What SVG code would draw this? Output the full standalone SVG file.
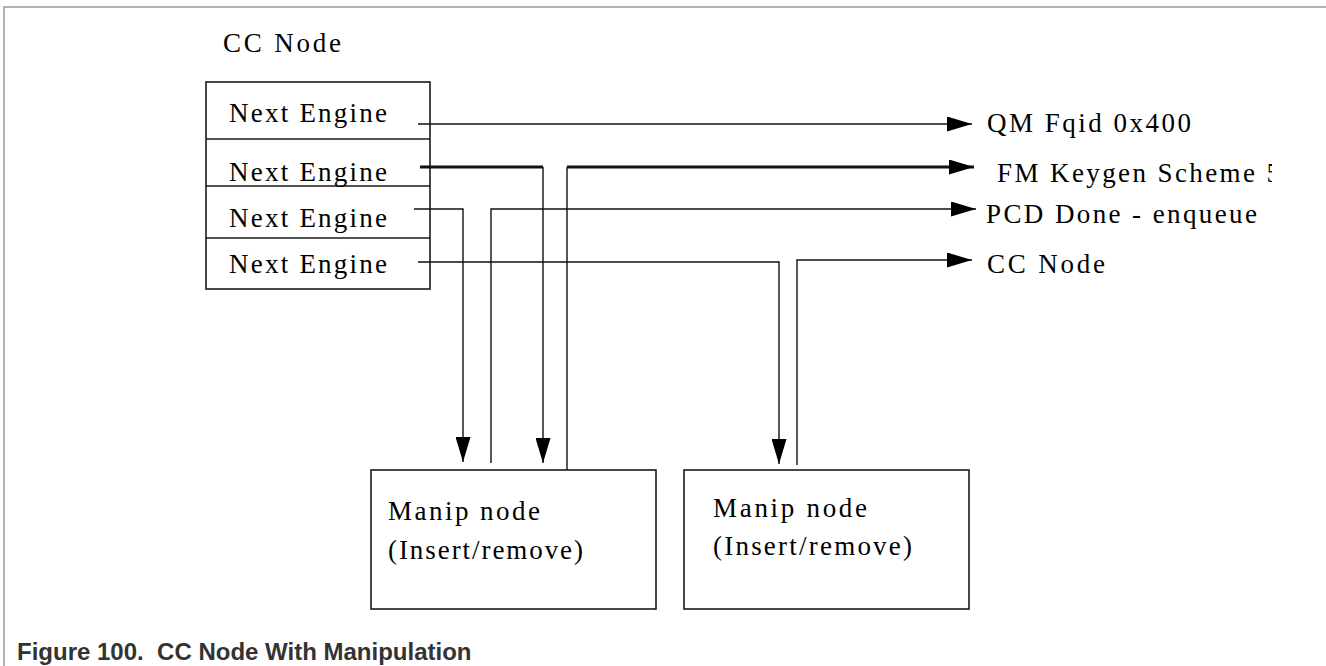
<svg xmlns="http://www.w3.org/2000/svg" width="1326" height="666" viewBox="0 0 1326 666">
  <style>
    .frame { stroke: #9a9a9a; stroke-width: 1.5; fill: none; }
    .box { fill: #ffffff; stroke: #1a1a1a; stroke-width: 1.6; }
    .div { stroke: #1a1a1a; stroke-width: 1.4; }
    .t { font-family: "Liberation Serif", "Times New Roman", serif; font-size: 27px; fill: #000; }
    .wire { fill: none; stroke: #111; stroke-width: 1.4; }
    .thick { fill: none; stroke: #111; stroke-width: 3; }
    .cap { font-family: "Liberation Sans", Arial, sans-serif; font-weight: bold; font-size: 24px; fill: #333; white-space: pre; }
  </style>
  <defs>
    <marker id="ah" viewBox="0 0 25 15" refX="25" refY="7.5" markerWidth="25" markerHeight="15" markerUnits="userSpaceOnUse" orient="auto">
      <path d="M0,0 L25,7.5 L0,15 Z" fill="#000"/>
    </marker>
    <clipPath id="clipR">
      <rect x="0" y="0" width="1272" height="666"/>
    </clipPath>
  </defs>

  <rect width="1326" height="666" fill="#ffffff"/>
  <path class="frame" d="M4,666 V7 H1326"/>

  <g id="cc-node">
    <text class="t" x="223" y="52" textLength="118" lengthAdjust="spacing">CC Node</text>
    <rect class="box" x="206" y="82" width="224" height="207"/>
    <line class="div" x1="206" y1="139" x2="430" y2="139"/>
    <line class="div" x1="206" y1="186" x2="430" y2="186"/>
    <line class="div" x1="206" y1="238" x2="430" y2="238"/>
    <text class="t" x="229" y="122" textLength="158" lengthAdjust="spacing">Next  Engine</text>
    <text class="t" x="229" y="181" textLength="158" lengthAdjust="spacing">Next  Engine</text>
    <text class="t" x="229" y="227" textLength="158" lengthAdjust="spacing">Next  Engine</text>
    <text class="t" x="229" y="273" textLength="158" lengthAdjust="spacing">Next  Engine</text>
  </g>

  <g id="manip-node-1">
    <rect class="box" x="371" y="470" width="285" height="139"/>
    <text class="t" x="388" y="520" textLength="152" lengthAdjust="spacing">Manip  node</text>
    <text class="t" x="388" y="559" textLength="195" lengthAdjust="spacing">(Insert/remove)</text>
  </g>

  <g id="manip-node-2">
    <rect class="box" x="684" y="470" width="285" height="139"/>
    <text class="t" x="713" y="517" textLength="154" lengthAdjust="spacing">Manip  node</text>
    <text class="t" x="713" y="555" textLength="199" lengthAdjust="spacing">(Insert/remove)</text>
  </g>

  <g id="target-qm">
    <text class="t" x="987" y="132" textLength="204" lengthAdjust="spacing">QM Fqid 0x400</text>
  </g>
  <g id="target-fm">
    <text class="t" x="997" y="182" textLength="283" lengthAdjust="spacing" clip-path="url(#clipR)">FM Keygen Scheme 5</text>
  </g>
  <g id="target-pcd">
    <text class="t" x="986" y="223" textLength="271" lengthAdjust="spacing">PCD Done  -  enqueue</text>
  </g>
  <g id="target-cc">
    <text class="t" x="987" y="273" textLength="118" lengthAdjust="spacing">CC Node</text>
  </g>

  <g id="connectors">
    <path class="wire" d="M418,124 H972" marker-end="url(#ah)"/>
    <path class="thick" d="M420,167 H543"/>
    <path class="wire" d="M543,167 V463" marker-end="url(#ah)"/>
    <path class="wire" d="M567,470 V167"/>
    <path class="thick" d="M567,167 H974" marker-end="url(#ah)"/>
    <path class="wire" d="M414,209 H463 V462" marker-end="url(#ah)"/>
    <path class="wire" d="M491,463 V209 H976" marker-end="url(#ah)"/>
    <path class="wire" d="M418,262 H779 V464" marker-end="url(#ah)"/>
    <path class="wire" d="M797,465 V260 H972" marker-end="url(#ah)"/>
  </g>

  <text class="cap" x="17" y="660" xml:space="preserve">Figure 100.  CC Node With Manipulation</text>
</svg>
